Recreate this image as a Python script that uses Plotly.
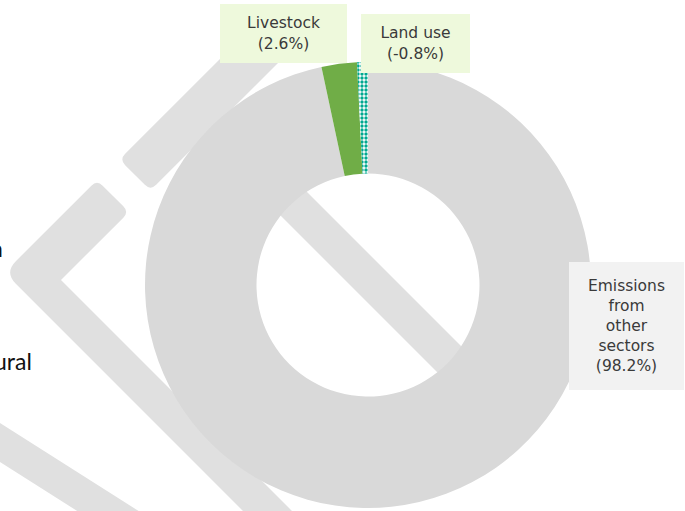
import plotly.graph_objects as go

# ---- data ----
categories = ["Emissions from other sectors", "Livestock", "Land use"]
label_text = ["Emissions<br>from<br>other<br>sectors", "Livestock", "Land use"]
shares = [98.2, 2.6, -0.8]          # % of total emissions
slice_colors = ["#d9d9d9", "#70ad47", "#ffffff"]
box_colors = ["#f2f2f2", "#eef9dc", "#eef9dc"]

W, H = 685, 511


def P(x, y):
    return x / W, 1 - y / H


def rounded_path(pts, radii):
    n = len(pts)
    segs = []
    for i in range(n):
        p0, p1, p2 = pts[i - 1], pts[i], pts[(i + 1) % n]
        r = radii[i]
        if r <= 0:
            a = b = p1
        else:
            d0 = ((p0[0] - p1[0]) ** 2 + (p0[1] - p1[1]) ** 2) ** 0.5
            d2 = ((p2[0] - p1[0]) ** 2 + (p2[1] - p1[1]) ** 2) ** 0.5
            a = (p1[0] + (p0[0] - p1[0]) * r / d0, p1[1] + (p0[1] - p1[1]) * r / d0)
            b = (p1[0] + (p2[0] - p1[0]) * r / d2, p1[1] + (p2[1] - p1[1]) * r / d2)
        segs.append((a, p1, b))
    path = ""
    for i, (a, c, b) in enumerate(segs):
        ax, ay = P(*a)
        cx, cy = P(*c)
        bx, by = P(*b)
        path += ("M" if i == 0 else "L") + f"{ax:.5f},{ay:.5f} "
        path += f"Q{cx:.5f},{cy:.5f} {bx:.5f},{by:.5f} "
    return path + "Z"


def sd(s, d):
    return ((s - d) / 2, (s + d) / 2)


wm = "#e0e0e0"
shapes = []
# background watermark (decorative)
barA = [sd(279, 40), sd(341, 40), sd(341, -260), sd(279, -260)]
shapes.append(dict(type="path", path=rounded_path(barA, [8, 8, 0, 0]),
                   xref="paper", yref="paper", fillcolor=wm, line_width=0, layer="below"))
chev = [sd(277, 83), sd(341, 83), sd(341, 219), sd(900, 219), sd(900, 268), sd(277, 268)]
shapes.append(dict(type="path", path=rounded_path(chev, [8, 8, 0, 0, 0, 16]),
                   xref="paper", yref="paper", fillcolor=wm, line_width=0, layer="below"))
holebar = [sd(400, -115), sd(400, -65), sd(900, -65), sd(900, -115)]
shapes.append(dict(type="path", path=rounded_path(holebar, [0, 0, 0, 0]),
                   xref="paper", yref="paper", fillcolor=wm, line_width=0, layer="below"))
band = [(-10, 416.6), (220, 562.7), (220, 601.7), (-10, 455.6)]
shapes.append(dict(type="path", path=rounded_path(band, [0, 0, 0, 0]),
                   xref="paper", yref="paper", fillcolor=wm, line_width=0, layer="below"))

cx, cy, R = 368, 285, 223
dx0, dy1 = P(cx - R, cy - R)
dx1, dy0 = P(cx + R, cy + R)

fig = go.Figure(go.Pie(
    labels=categories,
    values=[abs(v) for v in shares],
    sort=False,
    direction="clockwise",
    rotation=0,
    hole=0.5,
    textinfo="none",
    hoverinfo="label+percent",
    marker=dict(colors=slice_colors, line=dict(width=0),
                pattern=dict(shape=["", "", "."], fgcolor=["#d9d9d9", "#70ad47", "#00a88f"],
                             size=4, solidity=0.55)),
    domain=dict(x=[dx0, dx1], y=[dy0, dy1]),
))

# label boxes (pixel geometry)
boxes = [
    dict(cx=626.5, cy=326, w=115, h=128),
    dict(cx=283.5, cy=33.5, w=127, h=59),
    dict(cx=415.5, cy=43.5, w=109, h=59),
]
annotations = []
for t, v, bc, b in zip(label_text, shares, box_colors, boxes):
    ax, ay = P(b["cx"], b["cy"])
    annotations.append(dict(
        x=ax, y=ay, xref="paper", yref="paper", xanchor="center", yanchor="middle",
        text=f"{t}<br>({v:.1f}%)", showarrow=False, align="center",
        font=dict(family="DejaVu Sans", size=15.5, color="#3a3a3a"),
        bgcolor=bc, width=b["w"], height=b["h"], borderpad=0, borderwidth=0,
    ))

# partial slide text at the left edge
for txt, x, y in [("n", 5, 248), ("ural", 34, 361)]:
    ax, ay = P(x, y)
    annotations.append(dict(x=ax, y=ay, xref="paper", yref="paper", xanchor="right",
                            yanchor="middle", text=txt, showarrow=False,
                            font=dict(family="Lato", size=23, color="#111111")))

fig.update_layout(
    width=W, height=H, margin=dict(l=0, r=0, t=0, b=0),
    paper_bgcolor="white", plot_bgcolor="white", showlegend=False,
    shapes=shapes, annotations=annotations,
)

fig.write_html(
    "out.html",
    config={"displayModeBar": False},
    post_script="document.body.style.margin='0';document.body.style.overflow='hidden';",
)
